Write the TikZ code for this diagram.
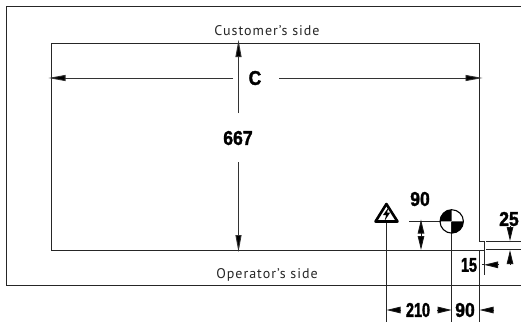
\documentclass[tikz,border=0pt]{standalone}
\usepackage{fontspec}
\setmainfont{PT Sans}[LetterSpace=7]
\newfontfamily\dimfont{Liberation Sans}[FakeStretch=0.88,FakeBold=1.5]
\newfontfamily\dimnarrow{Liberation Sans}[FakeStretch=0.72,FakeBold=1.5]
\usetikzlibrary{arrows.meta}
\tikzset{
  thinline/.style={line width=0.85pt,black!85},
  boxline/.style={line width=0.95pt,black!85},
  dimtip/.style={-{Triangle[length=14pt,width=6.5pt,fill=black]},line width=0.9pt,black!90},
  longtip/.style={-{Triangle[length=17pt,width=6pt,fill=black]},line width=0.9pt,black!80},
  sidelabel/.style={font=\fontsize{14pt}{16pt}\selectfont,text=black!85,inner sep=0pt},
  dimlabel/.style={font=\dimfont\bfseries\fontsize{20pt}{22pt}\selectfont,inner sep=0pt},
  narrowlabel/.style={font=\dimnarrow\bfseries\fontsize{20pt}{22pt}\selectfont,inner sep=0pt},
}
\begin{document}
\begin{tikzpicture}[x=1pt,y=-1pt]
\useasboundingbox (0,0) rectangle (521,322);
\fill[white] (0,0) rectangle (521,322);
% frames
\draw[boxline] (521,6.5) -- (6,6.5) -- (6,285.5) -- (521,285.5);
\draw[boxline] (484,250) -- (51,250) -- (51,43) -- (479.5,43) -- (479.5,241) -- (484,241) -- (484,250);
% extension lines
\draw[thinline] (486,241.3) -- (521,241.3);
\draw[thinline] (486,249.8) -- (521,249.8);
\draw[thinline] (479.5,250) -- (479.5,322);
\draw[thinline] (484,250) -- (484,275);
\draw[thinline] (386.5,222) -- (386.5,322);
\draw[thinline] (451.7,221.5) -- (451.7,322);
\draw[thinline] (409,221.5) -- (441,221.5);
% labels
\node[sidelabel] (cust) at (267,30.5) {Customer's side};
\node[sidelabel] (oper) at (267,275) {Operator's side};
\node[dimlabel] (lc) at (255,78) {C};
\node[dimlabel] (l667) at (238,138) {667};
\node[dimlabel] (l90a) at (420,199) {90};
\node[dimlabel] (l25) at (509,219) {25};
\node[narrowlabel] (l15) at (469,265) {15};
\node[narrowlabel] (l210) at (418,310) {210};
\node[dimlabel] (l90b) at (465,310) {90};
% main dimensions
\draw[longtip] (233,78) -- (48.5,78);
\draw[longtip] (279,78) -- (482.5,78);
\draw[longtip] (238.5,113) -- (238.5,40);
\draw[longtip] (238.5,162) -- (238.5,252);
% small dimensions
\draw[dimtip] (421,234) -- (421,219.5);
\draw[dimtip] (421,234) -- (421,250);
\draw[dimtip] (510,226) -- (510,241);
\draw[dimtip] (510,264) -- (510,250);
\draw[dimtip] (498.5,264.8) -- (484,264.8);
\draw[thinline] (484,264.8) -- (482,264.8);
\draw[dimtip] (401,310) -- (386.5,310);
\draw[dimtip] (437,310) -- (451.7,310);
\draw[dimtip] (494,310) -- (479.5,310);
% earth symbol
\fill[black] (451.7,221.4) -- (440,221.4) arc[start angle=180,end angle=270,radius=11.7] -- cycle;
\fill[black] (451.7,221.4) -- (463.4,221.4) arc[start angle=0,end angle=90,radius=11.7] -- cycle;
\draw[line width=1.1pt] (451.7,221.4) circle[radius=11.7];
% voltage symbol
\draw[line width=2.6pt,line join=round] (386.4,204) -- (397.5,221.5) -- (375.5,221.5) -- cycle;
\fill[black] (388.8,207) -- (383,215) -- (386.2,215) -- (384.5,221) -- (390.2,212.5) -- (387,212.5) -- cycle;
\end{tikzpicture}
\end{document}
